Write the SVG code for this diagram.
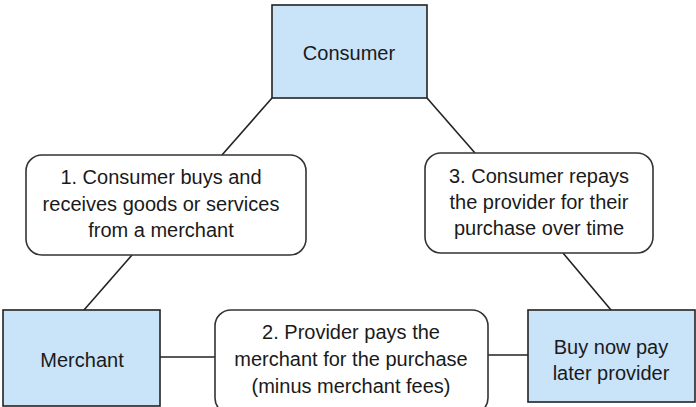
<svg xmlns="http://www.w3.org/2000/svg" width="696" height="407" viewBox="0 0 696 407">
<style>
.blue{fill:#c9e3f9;stroke:#222;stroke-width:1.6}
.note{fill:#fff;stroke:#333;stroke-width:1.6}
.t{font-family:"Liberation Sans",Arial,sans-serif;font-size:20px;fill:#1a1a1a;text-anchor:middle}
.c{stroke:#222;stroke-width:1.6;fill:none}
</style>
<rect width="696" height="407" fill="#fff"/>
<g id="connectors">
<line class="c" x1="272" y1="98" x2="222" y2="155"/>
<line class="c" x1="132" y1="255" x2="84" y2="310"/>
<line class="c" x1="427" y1="98" x2="475" y2="153"/>
<line class="c" x1="563" y1="253" x2="611" y2="310"/>
<line class="c" x1="160" y1="357" x2="215" y2="357"/>
<line class="c" x1="488" y1="355" x2="528" y2="355"/>
</g>
<g id="consumer">
<rect class="blue" x="272" y="5" width="155" height="93"/>
<text class="t" x="349" y="60">Consumer</text>
</g>
<g id="step1">
<rect class="note" x="26" y="155" width="280" height="100" rx="16"/>
<text class="t" x="161" y="184">1. Consumer buys and</text>
<text class="t" x="161" y="211">receives goods or services</text>
<text class="t" x="161" y="237">from a merchant</text>
</g>
<g id="step3">
<rect class="note" x="425" y="153" width="228" height="100" rx="16"/>
<text class="t" x="539" y="183">3. Consumer repays</text>
<text class="t" x="539" y="209">the provider for their</text>
<text class="t" x="539" y="235">purchase over time</text>
</g>
<g id="merchant">
<rect class="blue" x="3" y="310" width="157" height="96"/>
<text class="t" x="82" y="367">Merchant</text>
</g>
<g id="step2">
<rect class="note" x="215" y="310" width="273" height="104" rx="16"/>
<text class="t" x="351" y="339">2. Provider pays the</text>
<text class="t" x="351" y="366">merchant for the purchase</text>
<text class="t" x="351" y="393">(minus merchant fees)</text>
</g>
<g id="bnpl">
<rect class="blue" x="528" y="310" width="167" height="92"/>
<text class="t" x="611" y="354">Buy now pay</text>
<text class="t" x="611" y="380">later provider</text>
</g>
</svg>
